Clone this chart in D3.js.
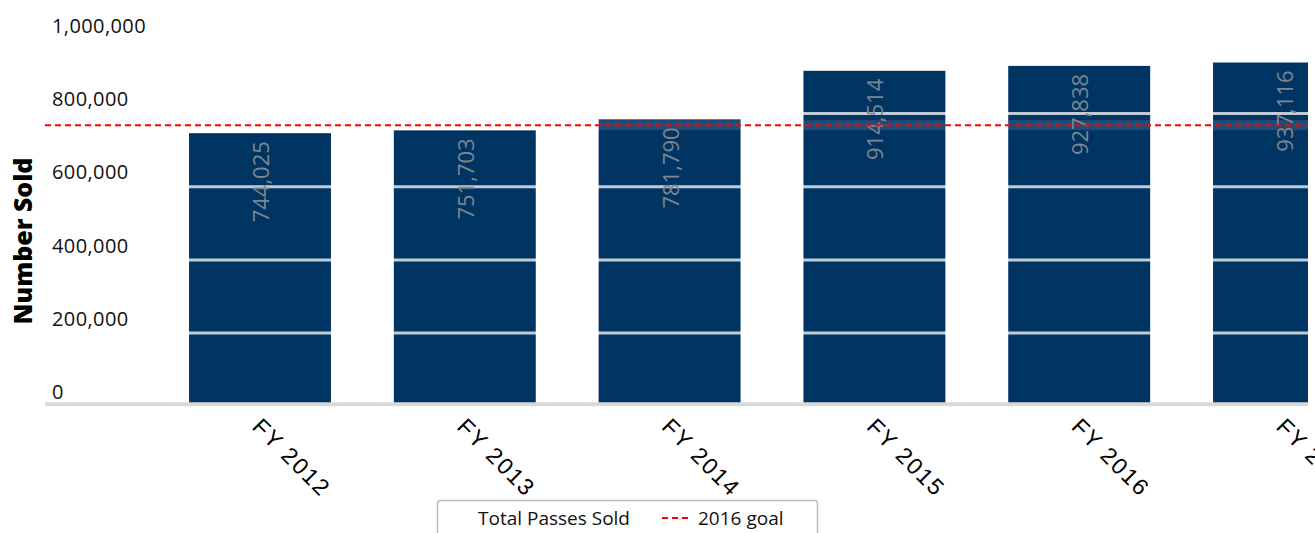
<!DOCTYPE html>
<html>
<head>
<meta charset="utf-8">
<script src="https://cdn.jsdelivr.net/npm/d3@7"></script>
<style>
  html, body { margin: 0; padding: 0; background: #fff; }
  svg { display: block; }
</style>
</head>
<body>
<svg id="chart" width="1315" height="533"></svg>
<script>
const categories = ["FY 2012", "FY 2013", "FY 2014", "FY 2015", "FY 2016", "FY 2017"];
const passesSold = [744025, 751703, 781790, 914514, 927838, 937116];
const goalValue = [766000];
const yTicks = [0, 200000, 400000, 600000, 800000, 1000000];
const legendLabels = ["Total Passes Sold", "2016 goal"];

const svg = d3.select("#chart");
const clipRight = 1308;

svg.append("defs").append("clipPath").attr("id", "plotclip")
  .append("rect").attr("x", 0).attr("y", 0).attr("width", clipRight).attr("height", 533);

const y = d3.scaleLinear().domain([0, 1000000]).range([405.5, 39.5]);
const x = d3.scaleBand().domain(categories).range([157.6, 1386.4])
  .paddingInner(0.307).paddingOuter(0.1535);

const fmt = d3.format(",");

// y-axis title
svg.append("text")
  .attr("transform", "translate(32,241) rotate(-90)")
  .attr("text-anchor", "middle")
  .attr("font-family", "'Open Sans', sans-serif")
  .attr("font-weight", 800)
  .attr("font-size", 25)
  .attr("fill", "#000")
  .text("Number Sold");

// y tick labels
svg.append("g").selectAll("text").data(yTicks).join("text")
  .attr("x", 52)
  .attr("y", d => y(d) - 6.5)
  .attr("font-family", "'Open Sans', sans-serif")
  .attr("font-size", 20)
  .attr("letter-spacing", 0.4)
  .attr("fill", "#111")
  .text(d => fmt(d));

const plot = svg.append("g").attr("clip-path", "url(#plotclip)");

// bars
plot.append("g").selectAll("rect").data(passesSold).join("rect")
  .attr("x", (d, i) => x(categories[i]))
  .attr("width", x.bandwidth())
  .attr("y", d => y(d))
  .attr("height", d => y(0) - y(d))
  .attr("fill", "#003463");

// gridlines over bars
plot.append("g").selectAll("line").data(yTicks.filter(d => d > 0)).join("line")
  .attr("x1", 45).attr("x2", clipRight)
  .attr("y1", d => y(d) + 0.8).attr("y2", d => y(d) + 0.8)
  .attr("stroke", "#ffffff").attr("stroke-opacity", 0.75).attr("stroke-width", 3);

// goal highlight band
plot.append("rect")
  .attr("x", 45).attr("width", clipRight - 45)
  .attr("y", y(goalValue[0]) - 5).attr("height", 10)
  .attr("fill", "#ffffff").attr("fill-opacity", 0.12);

// value labels
plot.append("g").selectAll("text").data(passesSold).join("text")
  .attr("transform", (d, i) => `translate(${x(categories[i]) + x.bandwidth() / 2},${y(d) + 8}) rotate(-90)`)
  .attr("text-anchor", "end")
  .attr("dominant-baseline", "central")
  .attr("font-family", "'Open Sans', sans-serif")
  .attr("font-weight", 400)
  .attr("font-size", 22)
  .attr("fill", "#7f868e")
  .text(d => fmt(d));

// baseline
plot.append("line")
  .attr("x1", 45).attr("x2", clipRight)
  .attr("y1", 404.2).attr("y2", 404.2)
  .attr("stroke", "#d9d9d9").attr("stroke-width", 4);

// goal line
plot.append("line")
  .attr("x1", 45).attr("x2", clipRight)
  .attr("y1", y(goalValue[0])).attr("y2", y(goalValue[0]))
  .attr("stroke", "#ff0000").attr("stroke-width", 2)
  .attr("stroke-dasharray", "6,4");

// x labels
svg.append("g").selectAll("text").data(categories).join("text")
  .attr("transform", d => `translate(${x(d) + x.bandwidth() / 2 - 9},428) rotate(45)`)
  .attr("text-anchor", "start")
  .attr("font-family", "'Liberation Sans', Arial, sans-serif")
  .attr("font-size", 23)
  .attr("letter-spacing", 1.8)
  .attr("fill", "#000")
  .text(d => d);

// legend
const lg = svg.append("g");
lg.append("rect")
  .attr("x", 437.5).attr("y", 500.5).attr("width", 380).attr("height", 45)
  .attr("rx", 3).attr("fill", "#fff").attr("stroke", "#bdbdbd").attr("stroke-width", 1.5);
lg.append("text")
  .attr("x", 478).attr("y", 525)
  .attr("font-family", "'Open Sans', sans-serif").attr("font-size", 19).attr("fill", "#111")
  .text(legendLabels[0]);
lg.append("line")
  .attr("x1", 662).attr("x2", 689).attr("y1", 518).attr("y2", 518)
  .attr("stroke", "#ff0000").attr("stroke-width", 2).attr("stroke-dasharray", "6,4");
lg.append("text")
  .attr("x", 698).attr("y", 525)
  .attr("font-family", "'Open Sans', sans-serif").attr("font-size", 19).attr("fill", "#111")
  .text(legendLabels[1]);
</script>
</body>
</html>
